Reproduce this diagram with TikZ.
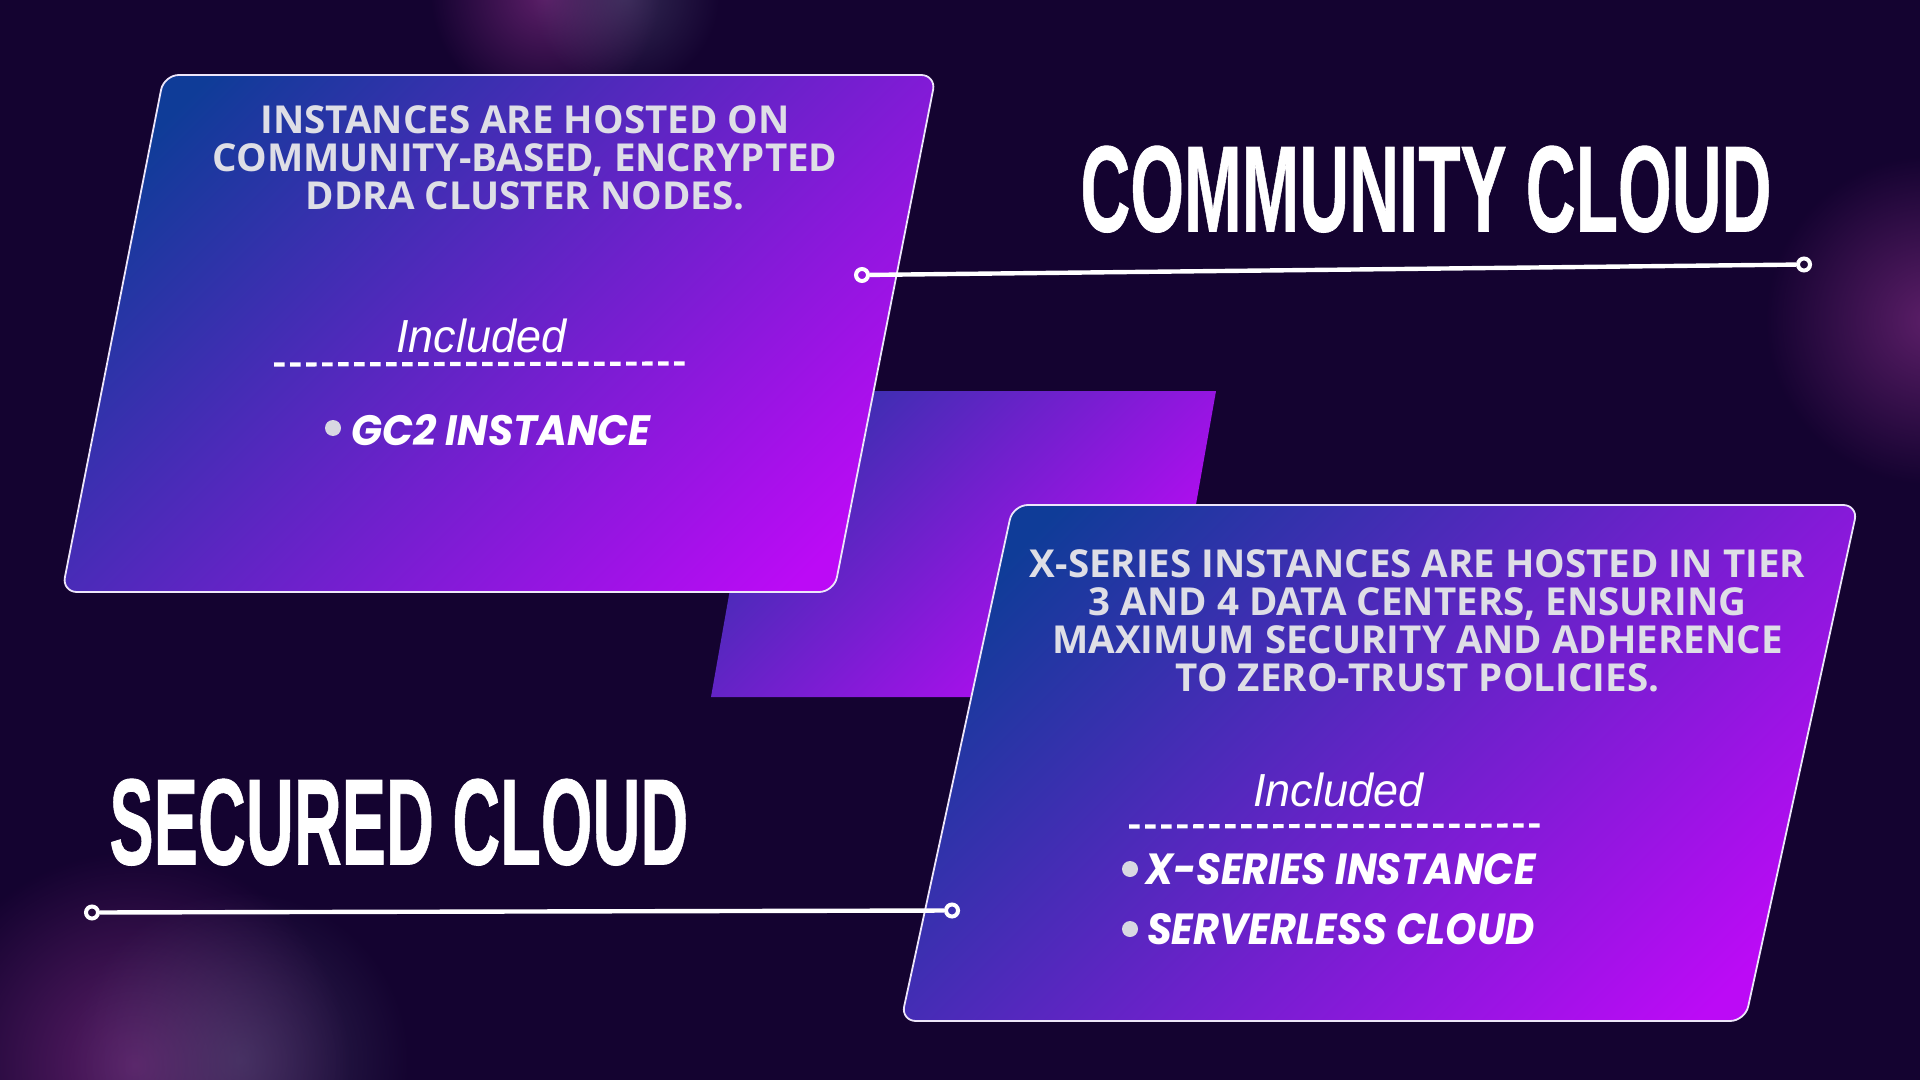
\documentclass[tikz,border=0pt]{standalone}
\usepackage{fontspec}
\usepackage{graphicx}
\usetikzlibrary{fadings}
\setmainfont{Liberation Sans}
\newfontfamily\bodyf{Open Sans}
\newfontfamily\headf{Liberation Sans}[BoldFont={Liberation Sans Bold},BoldFeatures={FakeBold=0.7}]
\newfontfamily\itemf{Poppins}
\definecolor{bgc}{HTML}{140330}
\definecolor{gradA}{HTML}{0F3C98}
\definecolor{gradB}{HTML}{5A20BD}
\definecolor{gradC}{HTML}{BC0AF6}
\definecolor{bodyc}{HTML}{DEDEE6}
\definecolor{bulc}{HTML}{D8D8E2}
\definecolor{edgec}{HTML}{EDE6FA}
\definecolor{glowM}{HTML}{7A2A80}
\definecolor{glowB}{HTML}{5A5A80}
\tikzfading[name=glowfade, inner color=transparent!30, outer color=transparent!100]
\tikzfading[name=glowsoft, inner color=transparent!55, outer color=transparent!100]
\tikzset{
  panelshade/.style={top color=gradA, middle color=gradB, bottom color=gradC, shading angle=45},
  paneledge/.style={draw=edgec, line width=0.9pt, rounded corners=7.5pt},
  ring/.style={circle, draw=white, line width=2pt, minimum size=6pt, inner sep=0pt},
  linkline/.style={draw=white, line width=2.2pt},
  dashline/.style={draw=white, line width=2.1pt, dash pattern=on 5.3pt off 2.7pt},
  bodytext/.style={text=bodyc, align=center, inner sep=0pt, font=\bodyf\bfseries\fontsize{19.25}{19}\selectfont},
  fitted/.style={text=white, inner sep=0pt, anchor=south west},
  bullet/.style={circle, fill=bulc, minimum size=8pt, inner sep=0pt},
}
\begin{document}
\begin{tikzpicture}[x=0.5pt,y=-0.5pt]
\useasboundingbox (0,0) rectangle (1920,1080);
\fill[bgc] (0,0) rectangle (1920,1080);
% glows
\begin{scope}
\clip (0,0) rectangle (1920,1080);
\fill[glowM, path fading=glowfade] (545,-5) circle (115);
\fill[glowB, path fading=glowsoft] (625,-5) circle (95);
\fill[glowM, path fading=glowfade] (1930,320) circle (165);
\fill[glowM, path fading=glowfade] (135,1065) circle (215);
\fill[glowB, path fading=glowsoft] (240,1060) circle (170);
\end{scope}
% centre parallelogram
\begin{scope}
\clip (765,391) -- (1216,391) -- (1162,697) -- (711,697) -- cycle;
\shade[panelshade] (620,300) rectangle (1216,697);
\end{scope}
% panel 1
\begin{scope}
\clip[rounded corners=7.5pt] (164,75) -- (936,75) -- (834,592) -- (62,592) -- cycle;
\shade[panelshade] (20,35) rectangle (980,632);
\end{scope}
\draw[paneledge] (164,75) -- (936,75) -- (834,592) -- (62,592) -- cycle;
% panel 2
\begin{scope}
\clip[rounded corners=7.5pt] (1013,505) -- (1858,505) -- (1745,1021) -- (901,1021) -- cycle;
\shade[panelshade] (860,465) rectangle (1900,1061);
\end{scope}
\draw[paneledge] (1013,505) -- (1858,505) -- (1745,1021) -- (901,1021) -- cycle;
% headings
\node[fitted] (head1) at (1080,233) {\resizebox{345.5pt}{42.8pt}{\headf\bfseries COMMUNITY CLOUD}};
\node[fitted] (head2) at (109,866) {\resizebox{289.5pt}{42.8pt}{\headf\bfseries SECURED CLOUD}};
% connectors
\node[ring] (r1a) at (862,275) {};
\node[ring] (r1b) at (1804,264.5) {};
\draw[linkline] (r1a) -- (r1b);
\node[ring] (r2a) at (92,912.5) {};
\node[ring] (r2b) at (952,910.5) {};
\draw[linkline] (r2a) -- (r2b);
% body
\node[bodytext] (body1) at (525,157.8) {INSTANCES ARE HOSTED ON\\COMMUNITY-BASED, ENCRYPTED\\DDRA CLUSTER NODES.};
\node[bodytext] (body2) at (1417.5,620.8) {X-SERIES INSTANCES ARE HOSTED IN TIER\\3 AND 4 DATA CENTERS, ENSURING\\MAXIMUM SECURITY AND ADHERENCE\\TO ZERO-TRUST POLICIES.};
% included
\node[fitted] (inc1) at (396,353.6) {\resizebox{85pt}{16.8pt}{\itshape Included}};
\node[fitted] (inc2) at (1253,807) {\resizebox{85pt}{16.8pt}{\itshape Included}};
\coordinate (d1a) at (274,364.5);
\coordinate (d1b) at (686,363.5);
\draw[dashline] (d1a) -- (d1b);
\coordinate (d2a) at (1129,826.5);
\coordinate (d2b) at (1542,825.5);
\draw[dashline] (d2a) -- (d2b);
% items
\node[bullet] (b1) at (333,428) {};
\node[fitted] (item1) at (351,446) {\resizebox{149.5pt}{15.5pt}{\itemf\bfseries\itshape GC2 INSTANCE}};
\node[bullet] (b2) at (1130,869) {};
\node[fitted] (item2) at (1145,885.5) {\resizebox{195pt}{15.5pt}{\itemf\bfseries\itshape X-SERIES INSTANCE}};
\node[bullet] (b3) at (1130,929) {};
\node[fitted] (item3) at (1146.6,945) {\resizebox{193.7pt}{15.5pt}{\itemf\bfseries\itshape SERVERLESS CLOUD}};
\end{tikzpicture}
\end{document}
